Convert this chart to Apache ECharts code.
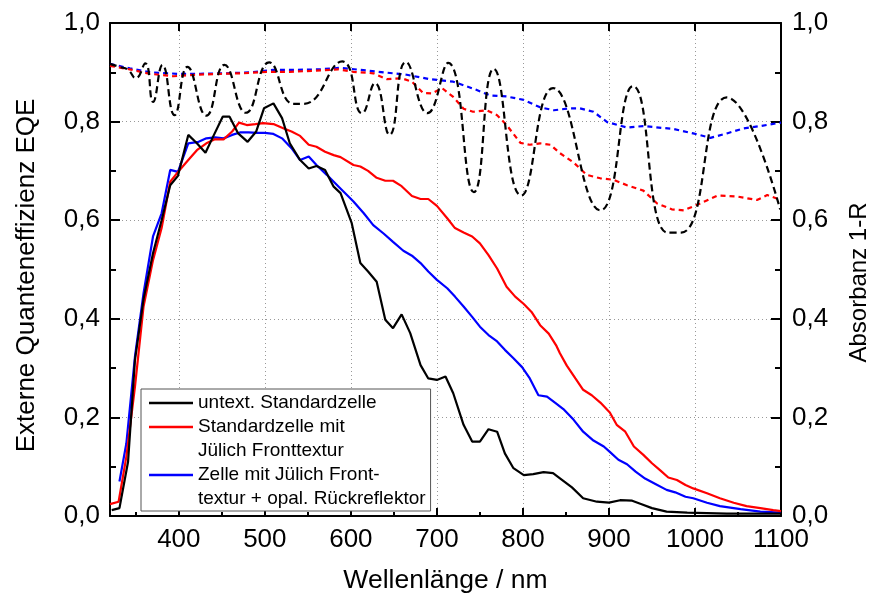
<!DOCTYPE html>
<html>
<head>
<meta charset="utf-8">
<script src="https://cdn.jsdelivr.net/npm/echarts@6/dist/echarts.min.js"></script>
<style>
  html, body { margin: 0; padding: 0; background: #fff; }
  #chart { width: 873px; height: 594px; }
</style>
</head>
<body>
<div id="chart"></div>
<script>
// EQE curves (left axis), wavelength in nm
const nmUntext = [322,331,341,349,359,370,380,390,399,411,421,431,440,451,459,469,480,490,499,510,520,529,541,551,560,570,580,588,601,611,620,630,640,649,659,669,681,690,700,710,719,731,741,750,760,770,779,789,801,812,824,835,845,857,870,886,900,913,927,938,950,967,991,1037,1100];
const eqeUntext = [0.012,0.016,0.11,0.316,0.44,0.533,0.60,0.671,0.69,0.773,0.756,0.737,0.77,0.81,0.81,0.776,0.759,0.78,0.827,0.837,0.807,0.756,0.722,0.705,0.71,0.702,0.668,0.655,0.594,0.513,0.496,0.475,0.398,0.381,0.409,0.371,0.306,0.279,0.276,0.283,0.249,0.185,0.151,0.151,0.176,0.171,0.127,0.097,0.083,0.085,0.089,0.087,0.074,0.058,0.036,0.029,0.027,0.032,0.031,0.024,0.016,0.009,0.007,0.005,0.005];

const nmFront = [320,330,339,349,359,370,380,390,401,411,421,432,442,452,462,470,479,489,498,510,522,531,541,551,560,570,580,588,603,611,620,630,640,649,659,671,681,690,700,712,721,731,741,750,760,770,781,791,801,810,820,830,839,843,851,861,870,880,890,901,909,919,929,940,950,960,969,979,989,998,1014,1029,1045,1060,1076,1091,1100];
const eqeFront = [0.024,0.029,0.12,0.262,0.425,0.519,0.584,0.678,0.702,0.722,0.742,0.756,0.764,0.764,0.78,0.798,0.793,0.795,0.797,0.795,0.786,0.78,0.771,0.753,0.749,0.739,0.732,0.728,0.712,0.709,0.70,0.686,0.68,0.68,0.669,0.649,0.643,0.643,0.629,0.604,0.584,0.575,0.567,0.553,0.529,0.502,0.465,0.445,0.43,0.414,0.387,0.37,0.345,0.33,0.305,0.279,0.256,0.245,0.23,0.21,0.185,0.171,0.141,0.124,0.107,0.092,0.078,0.073,0.063,0.056,0.046,0.036,0.027,0.02,0.016,0.012,0.01];

const nmBack = [331,339,349,359,370,380,390,399,411,423,432,442,452,462,471,481,491,500,510,520,531,541,551,560,572,587,603,615,626,638,649,661,671,681,690,700,712,721,731,741,750,760,770,779,789,799,808,818,828,838,847,859,870,882,894,901,911,921,931,942,954,967,977,989,998,1014,1029,1053,1076,1100];
const eqeBack = [0.07,0.147,0.323,0.452,0.567,0.614,0.702,0.698,0.756,0.759,0.766,0.768,0.766,0.773,0.778,0.778,0.777,0.777,0.775,0.766,0.746,0.722,0.729,0.712,0.692,0.666,0.638,0.614,0.59,0.573,0.556,0.538,0.528,0.513,0.496,0.479,0.462,0.445,0.425,0.404,0.384,0.367,0.354,0.337,0.32,0.302,0.279,0.245,0.242,0.229,0.217,0.195,0.171,0.153,0.141,0.13,0.114,0.105,0.09,0.076,0.065,0.053,0.048,0.039,0.036,0.027,0.02,0.014,0.009,0.007];

// Absorbance 1-R curves (right axis)
const nmAbsUntext = [320,331,341,350,361,370,381,395,410,432,453,478,505,533,545,590,613,628,645,664,689,713,743,766,798,835,890,928,968,984,1037,1099];
const absUntext = [0.917,0.911,0.905,0.888,0.918,0.84,0.915,0.813,0.911,0.812,0.915,0.818,0.92,0.836,0.836,0.922,0.817,0.878,0.773,0.921,0.817,0.919,0.657,0.907,0.65,0.868,0.62,0.872,0.575,0.575,0.849,0.622];

const nmAbsFront = [320,343,366,394,421,448,475,502,529,556,585,603,626,642,659,671,684,694,706,719,731,742,758,770,781,797,808,820,832,843,859,874,890,905,921,940,956,973,987,1006,1026,1049,1072,1084,1100];
const absFront = [0.913,0.906,0.897,0.892,0.895,0.897,0.898,0.901,0.901,0.903,0.906,0.901,0.898,0.886,0.888,0.881,0.858,0.857,0.868,0.85,0.826,0.82,0.823,0.813,0.793,0.757,0.753,0.756,0.753,0.736,0.717,0.692,0.685,0.682,0.671,0.66,0.634,0.622,0.62,0.634,0.65,0.648,0.641,0.651,0.641];

const nmAbsBack = [320,343,367,398,425,456,483,510,537,564,587,611,638,665,692,719,742,762,781,801,820,836,855,866,882,898,921,940,975,998,1018,1037,1056,1076,1100];
const absBack = [0.917,0.908,0.9,0.897,0.897,0.898,0.9,0.905,0.905,0.906,0.909,0.905,0.9,0.895,0.886,0.881,0.867,0.853,0.851,0.844,0.829,0.823,0.827,0.827,0.82,0.799,0.788,0.791,0.785,0.776,0.767,0.776,0.786,0.791,0.798];

const yTicks = [0, 0.2, 0.4, 0.6, 0.8, 1.0];

const nameUntext = 'untext. Standardzelle';
const nameFront = 'Standardzelle mit\nJülich Fronttextur';
const nameBack = 'Zelle mit Jülich Front-\ntextur + opal. Rückreflektor';

const zip = (xs, ys) => xs.map((x, i) => [x, ys[i]]);
const fmt = v => v.toFixed(1).replace('.', ',');
const FONT = '"Liberation Sans", Arial, sans-serif';

const chart = echarts.init(document.getElementById('chart'), null, { renderer: 'canvas' });

const axisLineStyle = { color: '#000', width: 2 };

const xCommon = {
  type: 'value', min: 320, max: 1100, splitNumber: 8,
  axisLine: { show: true, onZero: false, lineStyle: axisLineStyle }
};

const yCommon = {
  type: 'value', min: yTicks[0], max: yTicks[yTicks.length - 1], interval: 0.2,
  axisLine: { show: true, onZero: false, lineStyle: axisLineStyle },
  axisTick: { show: true, inside: true, length: 10, lineStyle: { color: '#000', width: 2 } },
  minorTick: { show: true, splitNumber: 2, length: 6, lineStyle: { color: '#000', width: 2 } },
  axisLabel: { color: '#000', fontSize: 26, fontFamily: FONT, formatter: fmt },
  nameLocation: 'middle',
  nameTextStyle: { color: '#000', fontSize: 26, fontFamily: FONT }
};

const option = {
  backgroundColor: '#fff',
  animation: false,
  grid: { left: 110, right: 92, top: 23, bottom: 78, containLabel: false, outerBoundsMode: 'none' },
  xAxis: [
    Object.assign({}, xCommon, {
      position: 'bottom',
      name: 'Wellenlänge / nm', nameLocation: 'middle', nameGap: 51,
      nameTextStyle: { color: '#000', fontSize: 26.5, fontFamily: FONT },
      axisTick: { show: true, inside: true, length: 8, lineStyle: { color: '#000', width: 2 } },
      minorTick: { show: true, splitNumber: 2, length: 4, lineStyle: { color: '#000', width: 2 } },
      axisLabel: { color: '#000', fontSize: 26, fontFamily: FONT, margin: 11, showMinLabel: false, showMaxLabel: true,
        formatter: v => String(v) },
      splitLine: { show: true, lineStyle: { color: '#999', width: 1, type: [1, 3] } }
    }),
    Object.assign({}, xCommon, {
      position: 'top',
      axisTick: { show: true, inside: true, length: 8, lineStyle: { color: '#000', width: 2 } },
      axisLabel: { show: false },
      splitLine: { show: false }
    })
  ],
  yAxis: [
    Object.assign({}, yCommon, {
      position: 'left',
      name: 'Externe Quanteneffizienz EQE', nameGap: 70,
      nameTextStyle: { color: '#000', fontSize: 26, fontFamily: FONT, padding: [0, 12, 0, 0] },
      axisLabel: Object.assign({}, yCommon.axisLabel, { margin: 10 }),
      splitLine: { show: true, lineStyle: { color: '#999', width: 1, type: [1, 3] } }
    }),
    Object.assign({}, yCommon, {
      position: 'right',
      name: 'Absorbanz 1-R', nameGap: 66,
      nameTextStyle: { color: '#000', fontSize: 24, fontFamily: FONT, padding: [0, 26, 0, 0] },
      axisLabel: Object.assign({}, yCommon.axisLabel, { margin: 11 }),
      splitLine: { show: false }
    })
  ],
  legend: {
    orient: 'vertical',
    left: 141, top: 389,
    padding: [2, 5, 0, 8],
    backgroundColor: '#fff',
    borderColor: '#555', borderWidth: 1,
    icon: 'rect', itemWidth: 44, itemHeight: 2.5,
    itemGap: -24,
    selectedMode: false,
    // two-line entries get an empty leading line so the swatch sits on their first line
    formatter: name => (name.indexOf('\n') >= 0 ? '\n' + name : name),
    textStyle: { color: '#000', fontSize: 19, fontFamily: FONT, lineHeight: 24 },
    data: [nameUntext, nameFront, nameBack]
  },
  series: [
    { name: 'abs-back', type: 'line', xAxisIndex: 0, yAxisIndex: 1, symbol: 'none',
      data: zip(nmAbsBack, absBack), lineStyle: { color: '#0000ff', width: 2.2, type: [5, 4] } },
    { name: 'abs-front', type: 'line', xAxisIndex: 0, yAxisIndex: 1, symbol: 'none',
      data: zip(nmAbsFront, absFront), lineStyle: { color: '#ff0000', width: 2.2, type: [5, 4] } },
    { name: 'abs-untext', type: 'line', xAxisIndex: 0, yAxisIndex: 1, symbol: 'none', smooth: 0.5,
      data: zip(nmAbsUntext, absUntext), lineStyle: { color: '#000', width: 2.2, type: [7, 4] } },
    { name: nameBack, type: 'line', xAxisIndex: 0, yAxisIndex: 0, symbol: 'none',
      itemStyle: { color: '#0000ff' },
      data: zip(nmBack, eqeBack), lineStyle: { color: '#0000ff', width: 2.2 } },
    { name: nameFront, type: 'line', xAxisIndex: 0, yAxisIndex: 0, symbol: 'none',
      itemStyle: { color: '#ff0000' },
      data: zip(nmFront, eqeFront), lineStyle: { color: '#ff0000', width: 2.2 } },
    { name: nameUntext, type: 'line', xAxisIndex: 0, yAxisIndex: 0, symbol: 'none',
      itemStyle: { color: '#000' },
      data: zip(nmUntext, eqeUntext), lineStyle: { color: '#000', width: 2.2 } }
  ]
};

chart.setOption(option);
</script>
</body>
</html>
